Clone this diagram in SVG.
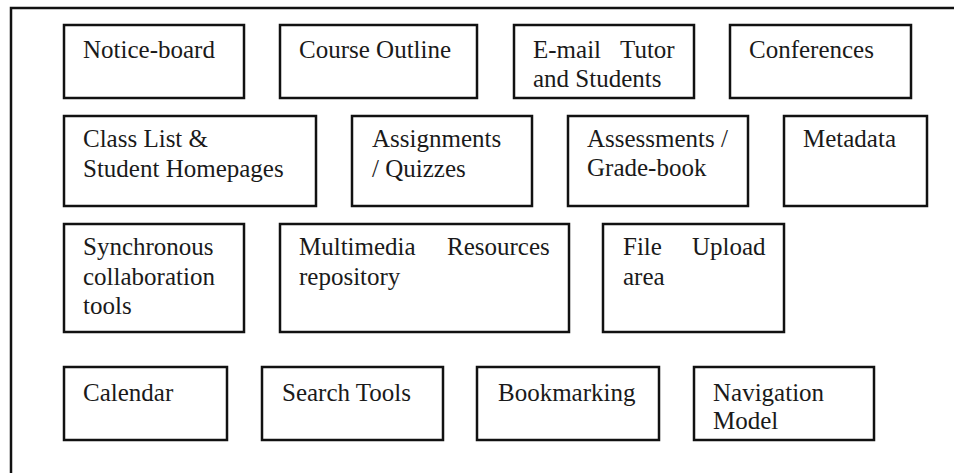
<svg xmlns="http://www.w3.org/2000/svg" width="954" height="473" viewBox="0 0 954 473">
<style>
  .box { fill: #fff; stroke: #111; stroke-width: 2.5; }
  .frame { fill: none; stroke: #111; stroke-width: 2.5; }
  text { font-family: "Liberation Serif", "Times New Roman", serif; font-size: 25px; fill: #1a1a1a; }
</style>
<rect x="0" y="0" width="954" height="473" fill="#fff"/>
<path class="frame" d="M11,473 V8 H954"/>
<g id="notice-board"><rect class="box" x="64" y="25" width="180" height="73"/><text x="83" y="58">Notice-board</text></g>
<g id="course-outline"><rect class="box" x="280" y="25" width="197" height="73"/><text x="299" y="58">Course Outline</text></g>
<g id="email"><rect class="box" x="514" y="25" width="180" height="73"/><text y="58"><tspan x="533">E-mail</tspan><tspan x="620">Tutor</tspan></text><text x="533" y="87">and Students</text></g>
<g id="conferences"><rect class="box" x="730" y="25" width="181" height="73"/><text x="749" y="58">Conferences</text></g>
<g id="class-list"><rect class="box" x="64" y="116" width="252" height="90"/><text x="83" y="147">Class List &amp;</text><text x="83" y="177">Student Homepages</text></g>
<g id="assignments"><rect class="box" x="352" y="116" width="180" height="90"/><text x="372" y="147">Assignments</text><text x="372" y="177">/ Quizzes</text></g>
<g id="assessments"><rect class="box" x="568" y="116" width="180" height="90"/><text x="587" y="147">Assessments /</text><text x="587" y="176">Grade-book</text></g>
<g id="metadata"><rect class="box" x="784" y="116" width="143" height="90"/><text x="803" y="147">Metadata</text></g>
<g id="synchronous"><rect class="box" x="64" y="224" width="180" height="108"/><text x="83" y="255">Synchronous</text><text x="83" y="285">collaboration</text><text x="83" y="314">tools</text></g>
<g id="multimedia"><rect class="box" x="280" y="224" width="289" height="108"/><text y="255"><tspan x="299">Multimedia</tspan><tspan x="447">Resources</tspan></text><text x="299" y="285">repository</text></g>
<g id="file-upload"><rect class="box" x="603" y="224" width="181" height="108"/><text y="255"><tspan x="623">File</tspan><tspan x="692">Upload</tspan></text><text x="623" y="285">area</text></g>
<g id="calendar"><rect class="box" x="64" y="367" width="163" height="73"/><text x="83" y="401">Calendar</text></g>
<g id="search-tools"><rect class="box" x="262" y="367" width="181" height="73"/><text x="282" y="401">Search Tools</text></g>
<g id="bookmarking"><rect class="box" x="477" y="367" width="182" height="73"/><text x="498" y="401">Bookmarking</text></g>
<g id="navigation"><rect class="box" x="694" y="367" width="180" height="73"/><text x="713" y="401">Navigation</text><text x="713" y="429">Model</text></g>
<g id="connectors"/>
</svg>
